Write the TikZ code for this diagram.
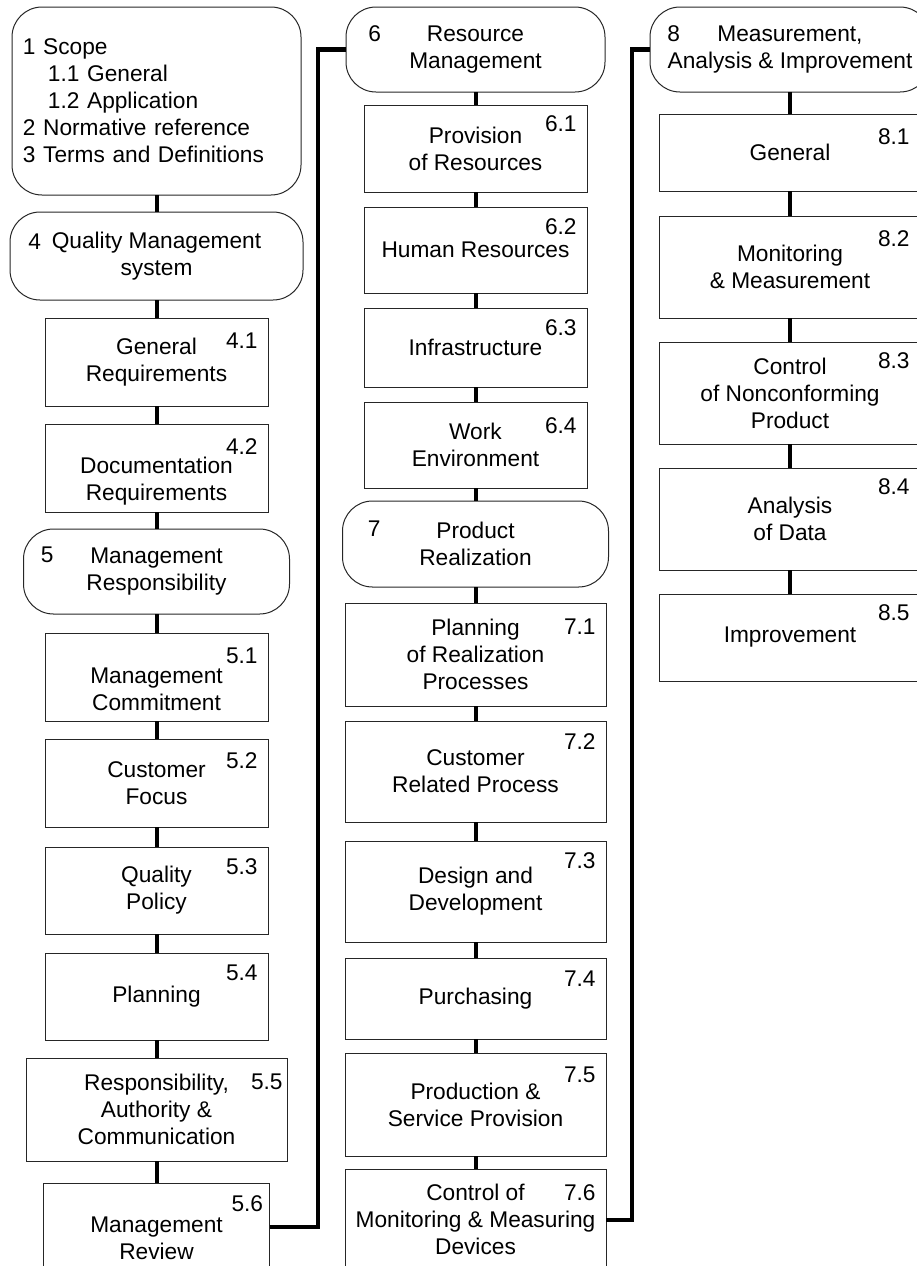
\documentclass[tikz,border=0pt]{standalone}
\usepackage{fontspec}
\setmainfont{Liberation Sans}
\usetikzlibrary{positioning,calc}

\tikzset{
	head/.style={draw=black!85, line width=0.5pt, rounded corners=15pt, align=center, inner sep=2pt, outer sep=0pt},
	item/.style={draw=black!85, line width=0.5pt, align=center, inner sep=2pt, outer sep=0pt, minimum width=111.5pt, minimum height=44pt},
	num/.style={inner sep=0pt, anchor=north east},
	hnum/.style={inner sep=0pt, anchor=north west},
	tie/.style={line width=2pt},
	link/.style={line width=2.4pt}
}

\begin{document}
\begin{tikzpicture}[x=0.5pt, y=-0.5pt, font=\fontsize{11.35}{13.5}\selectfont]
	\useasboundingbox (0,0) rectangle (917,1266);
	\clip (0,0) rectangle (917,1266);

	\node[head, align=left, text width=133.5pt, inner xsep=5.5pt, minimum height=94pt] (b1) at (156.5,101)
		{1 Scope\\\hspace*{12.5pt}1.1 General\\\hspace*{12.5pt}1.2 Application\\2 Normative reference\\3 Terms and Definitions};
	\node[head, minimum width=146.5pt, minimum height=44pt, below=8.5pt of b1] (b4) {Quality Management\\system};
	\node[item, below=9pt of b4] (b41) {General\\Requirements};
	\node[item, below=9pt of b41] (b42) {\rule{0pt}{21pt}Documentation\\Requirements};
	\node[head, minimum width=133pt, minimum height=42.5pt, below=8.5pt of b42] (b5) {Management\\Responsibility};
	\node[item, below=9.5pt of b5] (b51) {\rule{0pt}{20.5pt}Management\\Commitment};
	\node[item, below=9pt of b51] (b52) {Customer\\Focus};
	\node[item, minimum height=43.5pt, below=10pt of b52] (b53) {Quality\\Policy};
	\node[item, minimum height=43.5pt, below=9.5pt of b53] (b54) {Planning};
	\node[item, minimum width=130.5pt, minimum height=51.5pt, below=9pt of b54] (b55) {Responsibility,\\Authority \&\\Communication};
	\node[item, minimum width=113pt, minimum height=55pt, below=11pt of b55] (b56) {Management\\Review};

	\node[head, minimum width=129.5pt, minimum height=42.5pt] (b6) at (475.5,49.5) {Resource\\Management};
	\node[item, minimum height=43.5pt, below=6.5pt of b6] (b61) {Provision\\of Resources};
	\node[item, minimum height=43pt, below=7.5pt of b61] (b62) {Human Resources};
	\node[item, minimum height=39.5pt, below=7.5pt of b62] (b63) {Infrastructure};
	\node[item, minimum height=43pt, below=7.5pt of b63] (b64) {Work\\Environment};
	\node[head, minimum width=133pt, minimum height=43pt, below=6.5pt of b64] (b7) {Product\\Realization};
	\node[item, minimum width=130.5pt, minimum height=51.5pt, below=8pt of b7] (b71) {Planning\\of Realization\\Processes};
	\node[item, minimum width=130.5pt, minimum height=50.5pt, below=7.5pt of b71] (b72) {Customer\\Related Process};
	\node[item, minimum width=130.5pt, minimum height=50.5pt, below=9.5pt of b72] (b73) {Design and\\Development};
	\node[item, minimum width=130.5pt, minimum height=40.5pt, below=8pt of b73] (b74) {Purchasing};
	\node[item, minimum width=130.5pt, minimum height=51.5pt, below=7pt of b74] (b75) {Production \&\\Service Provision};
	\node[item, minimum width=130.5pt, minimum height=50pt, below=6.5pt of b75] (b76) {Control of\\Monitoring \& Measuring\\Devices};

	\node[head, minimum width=140pt, minimum height=42.5pt] (b8) at (790,49.5) {Measurement,\\Analysis \& Improvement};
	\node[item, minimum width=131pt, minimum height=38.5pt, below=11pt of b8] (b81) {General};
	\node[item, minimum width=131pt, minimum height=51pt, below=12.5pt of b81] (b82) {Monitoring\\\& Measurement};
	\node[item, minimum width=131pt, minimum height=51pt, below=12pt of b82] (b83) {Control\\of Nonconforming\\Product};
	\node[item, minimum width=131pt, minimum height=51pt, below=12pt of b83] (b84) {Analysis\\of Data};
	\node[item, minimum width=131pt, minimum height=43.5pt, below=12pt of b84] (b85) {Improvement};

	\node[hnum] (n4) at ($(b4.north west)+(18,21)$) {4};
	\node[hnum] (n5) at ($(b5.north west)+(17,17)$) {5};
	\node[hnum] (n6) at ($(b6.north west)+(22,18)$) {6};
	\node[hnum] (n7) at ($(b7.north west)+(25,19)$) {7};
	\node[hnum] (n8) at ($(b8.north west)+(17,18)$) {8};

	\node[num] (n41) at ($(b41.north east)+(-10,14)$) {4.1};
	\node[num] (n42) at ($(b42.north east)+(-10,14)$) {4.2};
	\node[num] (n51) at ($(b51.north east)+(-10,14)$) {5.1};
	\node[num] (n52) at ($(b52.north east)+(-10,13)$) {5.2};
	\node[num] (n53) at ($(b53.north east)+(-10,11)$) {5.3};
	\node[num] (n54) at ($(b54.north east)+(-10,11)$) {5.4};
	\node[num] (n55) at ($(b55.north east)+(-4,15)$) {5.5};
	\node[num] (n56) at ($(b56.north east)+(-6,12)$) {5.6};
	\node[num] (n61) at ($(b61.north east)+(-10,10)$) {6.1};
	\node[num] (n62) at ($(b62.north east)+(-10,11)$) {6.2};
	\node[num] (n63) at ($(b63.north east)+(-10,11)$) {6.3};
	\node[num] (n64) at ($(b64.north east)+(-10,15)$) {6.4};
	\node[num] (n71) at ($(b71.north east)+(-10,15)$) {7.1};
	\node[num] (n72) at ($(b72.north east)+(-10,12)$) {7.2};
	\node[num] (n73) at ($(b73.north east)+(-10,11)$) {7.3};
	\node[num] (n74) at ($(b74.north east)+(-10,12)$) {7.4};
	\node[num] (n75) at ($(b75.north east)+(-10,13)$) {7.5};
	\node[num] (n76) at ($(b76.north east)+(-10,15)$) {7.6};
	\node[num] (n81) at ($(b81.north east)+(-11,14)$) {8.1};
	\node[num] (n82) at ($(b82.north east)+(-11,14)$) {8.2};
	\node[num] (n83) at ($(b83.north east)+(-11,10)$) {8.3};
	\node[num] (n84) at ($(b84.north east)+(-11,10)$) {8.4};
	\node[num] (n85) at ($(b85.north east)+(-11,10)$) {8.5};

	\draw[tie] (b1.south) -- (b4.north);
	\draw[tie] (b4.south) -- (b41.north);
	\draw[tie] (b41.south) -- (b42.north);
	\draw[tie] (b42.south) -- (b5.north);
	\draw[tie] (b5.south) -- (b51.north);
	\draw[tie] (b51.south) -- (b52.north);
	\draw[tie] (b52.south) -- (b53.north);
	\draw[tie] (b53.south) -- (b54.north);
	\draw[tie] (b54.south) -- (b55.north);
	\draw[tie] (b55.south) -- (b56.north);
	\draw[tie] (b6.south) -- (b61.north);
	\draw[tie] (b61.south) -- (b62.north);
	\draw[tie] (b62.south) -- (b63.north);
	\draw[tie] (b63.south) -- (b64.north);
	\draw[tie] (b64.south) -- (b7.north);
	\draw[tie] (b7.south) -- (b71.north);
	\draw[tie] (b71.south) -- (b72.north);
	\draw[tie] (b72.south) -- (b73.north);
	\draw[tie] (b73.south) -- (b74.north);
	\draw[tie] (b74.south) -- (b75.north);
	\draw[tie] (b75.south) -- (b76.north);
	\draw[tie] (b8.south) -- (b81.north);
	\draw[tie] (b81.south) -- (b82.north);
	\draw[tie] (b82.south) -- (b83.north);
	\draw[tie] (b83.south) -- (b84.north);
	\draw[tie] (b84.south) -- (b85.north);

	\coordinate (k1) at (318,1227);
	\coordinate (k2) at (632,1220);
	\draw[link] (b56.east |- k1) -- (k1) |- (b6.west);
	\draw[link] (b76.east |- k2) -- (k2) |- (b8.west);

\end{tikzpicture}
\end{document}
